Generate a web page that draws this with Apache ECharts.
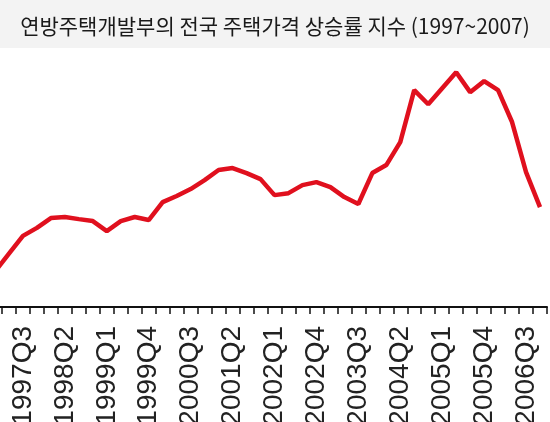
<!DOCTYPE html>
<html>
<head>
<meta charset="utf-8">
<style>
html,body{margin:0;padding:0;background:#ffffff;}
#chart{width:550px;height:422px;}
</style>
<script src="https://cdn.jsdelivr.net/npm/echarts@6/dist/echarts.min.js"></script>
</head>
<body>
<div id="chart"></div>
<script>
const titleText = '연방주택개발부의 전국 주택가격 상승률 지수 (1997~2007)';
const categories = [
  '1997Q1','1997Q2','1997Q3','1997Q4',
  '1998Q1','1998Q2','1998Q3','1998Q4',
  '1999Q1','1999Q2','1999Q3','1999Q4',
  '2000Q1','2000Q2','2000Q3','2000Q4',
  '2001Q1','2001Q2','2001Q3','2001Q4',
  '2002Q1','2002Q2','2002Q3','2002Q4',
  '2003Q1','2003Q2','2003Q3','2003Q4',
  '2004Q1','2004Q2','2004Q3','2004Q4',
  '2005Q1','2005Q2','2005Q3','2005Q4',
  '2006Q1','2006Q2','2006Q3','2006Q4'
];
const values = [
  2.0, 3.0, 4.0, 4.45,
  5.0, 5.06, 4.94, 4.83,
  4.27, 4.83, 5.06, 4.89,
  5.9, 6.24, 6.63, 7.13,
  7.7, 7.81, 7.53, 7.19,
  6.29, 6.4, 6.85, 7.02,
  6.74, 6.18, 5.79, 7.53,
  7.98, 9.27, 12.19, 11.4,
  12.3, 13.2, 12.08, 12.7,
  12.19, 10.4, 7.58, 5.62
];

const chart = echarts.init(document.getElementById('chart'), null, {renderer: 'canvas'});
chart.setOption({
  backgroundColor: '#ffffff',
  animation: false,
  graphic: [{
    type: 'rect',
    left: 0, top: 0,
    shape: {width: 550, height: 48},
    style: {fill: '#f3f3f3'},
    z: -1
  }],
  title: {
    text: titleText,
    left: 'center',
    top: 11,
    textStyle: {
      fontFamily: 'Noto Sans CJK KR',
      fontSize: 21,
      fontWeight: 'normal',
      color: '#1a1a1a'
    }
  },
  grid: {left: -12, width: 559, top: 58, bottom: 115, containLabel: false, outerBoundsMode: 'none'},
  xAxis: {
    type: 'category',
    data: categories,
    boundaryGap: true,
    axisLine: {show: true, lineStyle: {color: '#111', width: 2}},
    axisTick: {show: true, interval: 0, length: 7, lineStyle: {color: '#111', width: 1.5}},
    axisLabel: {
      interval: function (i) { return i % 3 === 2; },
      rotate: 90,
      margin: 19,
      fontFamily: 'Liberation Sans',
      fontSize: 28,
      color: '#222'
    },
    splitLine: {show: false}
  },
  yAxis: {
    type: 'value',
    min: 0,
    max: 14,
    show: false,
    splitLine: {show: false}
  },
  series: [{
    type: 'line',
    data: values,
    symbol: 'none',
    lineStyle: {color: '#e0101e', width: 4.5},
    smooth: false
  }]
});
</script>
</body>
</html>
